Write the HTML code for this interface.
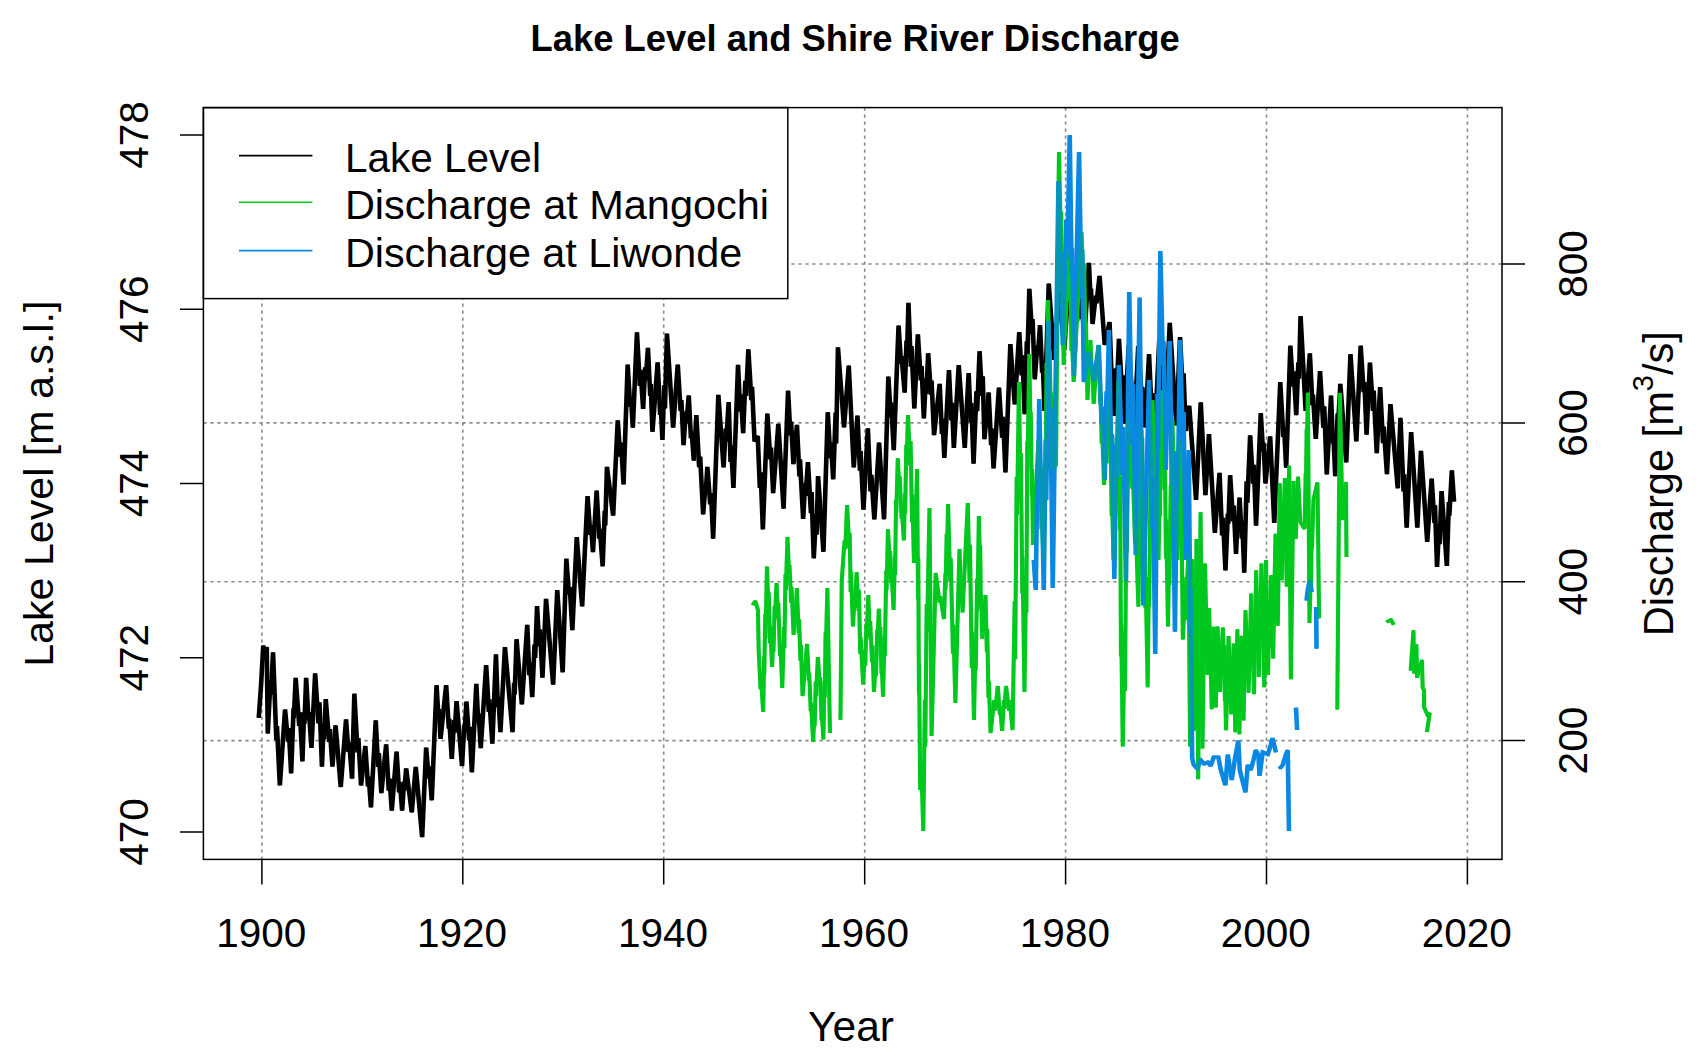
<!DOCTYPE html><html><head><meta charset="utf-8"><title>Lake Level and Shire River Discharge</title>
<style>html,body{margin:0;padding:0;background:#fff;}svg{display:block;} text{font-family:'Liberation Sans',Arial,sans-serif;fill:#000;}</style></head><body>
<svg width="1699" height="1063" viewBox="0 0 1699 1063">
<rect x="0" y="0" width="1699" height="1063" fill="#fff"/>
<path d="M261.9 107.6 V859.4 M462.8 107.6 V859.4 M663.7 107.6 V859.4 M864.7 107.6 V859.4 M1065.6 107.6 V859.4 M1266.5 107.6 V859.4 M1467.4 107.6 V859.4 M203.4 740.6 H1502.0 M203.4 581.7 H1502.0 M203.4 422.9 H1502.0 M203.4 264.0 H1502.0" stroke="#8a8a8a" stroke-width="1.6" stroke-dasharray="3.2 3.8" fill="none"/>
<g fill="none" stroke-linejoin="miter" stroke-miterlimit="2" stroke-linecap="butt">
<path d="M258.0 717.8 L260.3 685.4 L262.5 645.5 L264.5 660.0 L266.0 647.0 L267.0 733.6 L269.7 680.5 L270.2 694.7 L272.3 652.3 L275.6 739.9 L276.2 726.0 L279.1 785.5 L284.3 709.5 L287.3 741.5 L288.0 728.2 L290.4 773.4 L292.8 708.4 L293.1 718.3 L294.9 677.9 L298.5 726.0 L299.1 712.4 L301.7 761.4 L303.3 712.3 L303.7 723.6 L305.4 677.9 L307.7 719.3 L308.2 712.1 L310.7 747.9 L314.4 673.4 L317.7 723.5 L318.7 702.2 L321.2 766.7 L322.9 723.1 L323.4 739.4 L325.0 699.0 L328.4 741.9 L329.1 729.2 L331.7 766.7 L334.8 725.3 L340.0 787.0 L345.3 719.3 L347.7 751.9 L348.5 742.3 L351.3 778.7 L353.6 693.7 L356.8 752.5 L357.6 738.2 L360.3 785.5 L364.6 746.0 L367.2 786.3 L367.9 776.5 L370.2 807.5 L375.0 720.4 L377.3 767.0 L378.1 753.2 L380.6 793.1 L385.4 744.4 L388.0 790.6 L388.8 778.6 L391.0 810.7 L395.8 751.6 L398.4 792.4 L399.1 782.4 L401.4 810.7 L403.3 781.5 L403.6 790.7 L405.4 768.4 L411.0 812.3 L415.0 766.8 L421.4 837.1 L425.4 747.6 L428.0 778.4 L428.5 766.3 L431.0 800.3 L435.8 685.2 L437.7 717.2 L438.1 709.1 L439.8 738.8 L445.4 685.2 L448.1 728.7 L448.5 718.8 L451.0 758.8 L453.3 720.1 L453.9 732.7 L455.8 701.2 L461.3 766.0 L463.5 725.2 L463.9 731.8 L465.7 701.7 L468.4 740.5 L468.9 726.8 L471.1 772.3 L475.6 683.8 L477.5 722.8 L477.9 713.7 L480.0 748.2 L485.4 665.1 L488.1 711.8 L488.6 699.4 L491.6 743.7 L495.2 654.3 L497.1 707.2 L497.6 697.0 L499.7 732.1 L504.2 647.2 L511.8 732.1 L513.4 682.9 L513.9 694.5 L515.8 639.2 L521.1 704.4 L526.5 624.9 L528.6 675.2 L529.3 662.3 L531.5 697.2 L533.8 644.5 L534.4 658.0 L536.3 606.1 L538.5 646.1 L539.3 629.6 L541.7 677.6 L545.3 598.9 L552.4 684.7 L556.5 590.1 L561.9 672.3 L565.6 558.7 L568.2 594.5 L569.0 587.0 L571.6 630.1 L576.0 537.1 L581.4 606.3 L586.8 496.0 L589.6 535.0 L590.3 525.1 L592.2 552.2 L595.9 490.6 L598.5 538.7 L599.1 528.9 L601.9 566.3 L604.0 510.7 L604.5 525.5 L606.2 466.9 L612.4 515.6 L617.0 420.4 L619.5 456.7 L620.3 442.7 L622.8 484.5 L626.9 364.5 L629.4 406.6 L630.2 397.1 L632.1 427.6 L636.2 332.4 L639.1 385.8 L639.7 369.8 L642.4 409.0 L644.4 367.3 L644.9 380.4 L647.2 347.9 L649.5 396.0 L650.0 384.0 L651.7 431.8 L656.9 362.4 L659.4 415.0 L659.8 400.8 L661.7 440.0 L663.5 385.2 L664.2 408.4 L666.2 333.5 L672.4 427.6 L677.0 364.5 L679.9 411.0 L680.6 400.2 L682.8 445.2 L685.1 411.5 L685.7 423.4 L688.0 395.5 L690.2 438.4 L690.9 431.7 L693.1 460.7 L695.6 415.2 L698.4 467.1 L699.4 456.6 L702.4 514.5 L704.6 486.7 L705.0 492.6 L706.6 466.9 L709.5 504.3 L710.3 493.0 L712.4 538.7 L717.6 394.8 L722.8 467.3 L725.0 428.5 L725.5 441.4 L727.9 402.1 L729.8 461.9 L730.3 445.7 L732.7 488.0 L737.3 364.8 L739.4 411.4 L740.1 394.7 L742.4 433.1 L744.6 380.8 L745.4 396.0 L747.6 349.3 L750.6 400.1 L751.3 386.7 L753.8 441.4 L757.0 436.0 L759.1 487.9 L759.9 472.3 L762.1 529.4 L766.6 413.5 L769.6 459.5 L770.2 447.6 L772.4 493.1 L777.6 423.8 L782.8 508.7 L787.3 390.7 L789.7 435.5 L790.3 421.5 L792.7 464.2 L796.2 424.9 L798.7 476.5 L799.2 459.3 L802.4 519.0 L804.4 483.3 L804.8 495.8 L807.2 462.1 L810.2 513.2 L810.8 492.1 L813.0 558.3 L815.3 514.3 L815.8 534.7 L817.3 476.0 L822.7 551.8 L827.0 412.2 L829.6 458.1 L830.1 442.4 L832.5 479.3 L834.9 412.5 L835.4 443.5 L837.2 347.3 L843.3 427.4 L848.0 365.7 L853.0 467.4 L856.7 415.5 L859.2 470.7 L859.8 451.2 L862.7 509.6 L867.1 428.4 L869.8 491.4 L870.6 474.8 L873.6 519.3 L878.3 442.5 L883.3 519.3 L887.6 376.5 L890.0 417.1 L890.4 402.6 L893.0 450.1 L897.8 325.6 L900.3 363.9 L900.8 355.9 L903.9 392.7 L905.8 340.6 L906.2 357.8 L907.7 302.8 L910.1 366.8 L910.7 346.0 L913.6 408.5 L917.1 334.4 L920.1 380.4 L920.8 366.0 L923.1 418.4 L925.1 378.5 L925.7 394.0 L927.4 353.2 L930.3 395.0 L930.8 380.5 L933.3 435.2 L938.9 383.8 L941.2 433.9 L941.7 418.8 L943.6 457.9 L948.2 370.0 L950.6 420.5 L951.2 402.7 L953.1 448.0 L958.0 365.1 L964.0 448.0 L967.9 373.0 L970.0 422.4 L970.6 403.0 L972.8 463.8 L975.7 391.3 L976.4 411.3 L978.8 351.2 L981.2 395.9 L982.0 376.4 L983.7 439.1 L987.9 392.5 L990.4 445.1 L990.9 428.6 L992.8 468.5 L998.2 387.5 L1001.4 437.6 L1002.3 416.7 L1004.7 472.5 L1009.6 344.1 L1014.0 404.3 L1018.5 332.2 L1020.9 375.3 L1021.7 355.3 L1023.9 414.2 L1026.1 341.3 L1026.6 359.4 L1028.6 288.8 L1031.3 334.1 L1031.8 319.1 L1034.0 379.3 L1036.6 345.7 L1037.3 352.8 L1039.3 325.2 L1041.4 372.8 L1042.0 361.0 L1043.8 411.0 L1048.0 283.5 L1053.5 360.0 L1058.5 290.0 L1063.5 350.0 L1068.5 275.0 L1071.3 327.3 L1072.0 314.7 L1074.0 355.0 L1075.9 305.4 L1076.3 321.3 L1078.5 280.0 L1081.1 319.1 L1081.9 311.9 L1083.5 340.0 L1088.2 262.9 L1089.8 299.6 L1090.2 288.6 L1091.8 324.0 L1095.0 295.6 L1095.7 303.3 L1098.8 275.9 L1104.0 345.0 L1108.8 322.0 L1111.0 381.2 L1111.5 368.9 L1113.5 416.0 L1115.5 368.2 L1116.2 385.5 L1118.2 338.9 L1121.2 389.1 L1121.9 375.4 L1123.8 423.6 L1128.0 345.0 L1133.5 428.0 L1137.5 346.0 L1140.9 395.3 L1141.6 387.1 L1144.5 427.3 L1148.3 354.0 L1150.8 410.9 L1151.5 393.1 L1153.9 438.6 L1158.5 340.0 L1164.0 432.0 L1169.0 322.9 L1175.6 425.5 L1179.3 337.0 L1182.0 391.7 L1182.8 373.3 L1185.0 431.0 L1188.5 405.8 L1195.3 500.0 L1200.0 402.3 L1204.7 495.2 L1208.2 434.1 L1214.1 532.9 L1218.8 472.9 L1221.4 535.5 L1222.2 517.8 L1224.7 570.5 L1227.1 513.6 L1227.6 523.8 L1229.4 475.2 L1232.3 521.3 L1232.9 505.6 L1235.3 554.0 L1236.9 515.1 L1237.4 524.2 L1238.8 497.6 L1241.0 538.3 L1241.5 520.8 L1243.5 572.8 L1245.9 481.2 L1246.6 502.6 L1249.4 435.3 L1252.3 483.6 L1253.1 464.9 L1255.3 525.8 L1260.0 413.0 L1262.3 451.5 L1262.8 442.7 L1264.7 483.5 L1269.4 436.4 L1273.5 522.9 L1279.5 382.1 L1282.6 436.9 L1283.4 428.0 L1285.4 467.6 L1289.6 345.7 L1292.2 386.4 L1293.0 371.3 L1295.5 415.1 L1297.6 362.3 L1298.2 378.8 L1299.8 316.1 L1304.9 410.9 L1309.1 353.3 L1311.7 405.1 L1312.2 394.7 L1315.0 438.8 L1319.3 371.1 L1322.6 427.7 L1323.5 406.3 L1326.0 474.4 L1330.3 395.6 L1332.2 443.8 L1332.6 433.5 L1334.5 476.1 L1336.9 413.5 L1337.4 423.3 L1339.6 383.8 L1345.5 462.5 L1349.7 354.2 L1355.6 441.4 L1359.9 345.7 L1362.9 392.2 L1363.7 382.1 L1365.8 434.6 L1369.2 362.6 L1372.3 411.0 L1372.9 390.7 L1376.0 453.2 L1379.4 387.2 L1382.3 443.1 L1383.0 426.7 L1386.2 474.2 L1389.7 404.2 L1397.0 488.3 L1399.7 417.7 L1402.8 491.5 L1403.5 474.2 L1405.9 527.6 L1410.4 432.0 L1416.6 527.6 L1420.2 450.8 L1426.5 541.9 L1430.9 478.5 L1433.7 523.0 L1434.2 505.3 L1436.3 567.0 L1438.3 527.0 L1438.8 544.2 L1440.8 491.0 L1446.1 566.0 L1448.1 502.1 L1448.6 515.6 L1451.1 470.4 L1453.3 501.7" stroke="#000" stroke-width="3.1"/>
<path d="M258.0 717.8 L260.3 685.4 L262.5 645.5 L264.5 660.0 L266.0 647.0 L267.0 733.6 L269.7 680.5 L270.2 694.7 L272.3 652.3 L275.6 739.9 L276.2 726.0 L279.1 785.5 L284.3 709.5 L287.3 741.5 L288.0 728.2 L290.4 773.4 L292.8 708.4 L293.1 718.3 L294.9 677.9 L298.5 726.0 L299.1 712.4 L301.7 761.4 L303.3 712.3 L303.7 723.6 L305.4 677.9 L307.7 719.3 L308.2 712.1 L310.7 747.9 L314.4 673.4 L317.7 723.5 L318.7 702.2 L321.2 766.7 L322.9 723.1 L323.4 739.4 L325.0 699.0 L328.4 741.9 L329.1 729.2 L331.7 766.7 L334.8 725.3 L340.0 787.0 L345.3 719.3 L347.7 751.9 L348.5 742.3 L351.3 778.7 L353.6 693.7 L356.8 752.5 L357.6 738.2 L360.3 785.5 L364.6 746.0 L367.2 786.3 L367.9 776.5 L370.2 807.5 L375.0 720.4 L377.3 767.0 L378.1 753.2 L380.6 793.1 L385.4 744.4 L388.0 790.6 L388.8 778.6 L391.0 810.7 L395.8 751.6 L398.4 792.4 L399.1 782.4 L401.4 810.7 L403.3 781.5 L403.6 790.7 L405.4 768.4 L411.0 812.3 L415.0 766.8 L421.4 837.1 L425.4 747.6 L428.0 778.4 L428.5 766.3 L431.0 800.3 L435.8 685.2 L437.7 717.2 L438.1 709.1 L439.8 738.8 L445.4 685.2 L448.1 728.7 L448.5 718.8 L451.0 758.8 L453.3 720.1 L453.9 732.7 L455.8 701.2 L461.3 766.0 L463.5 725.2 L463.9 731.8 L465.7 701.7 L468.4 740.5 L468.9 726.8 L471.1 772.3 L475.6 683.8 L477.5 722.8 L477.9 713.7 L480.0 748.2 L485.4 665.1 L488.1 711.8 L488.6 699.4 L491.6 743.7 L495.2 654.3 L497.1 707.2 L497.6 697.0 L499.7 732.1 L504.2 647.2 L511.8 732.1 L513.4 682.9 L513.9 694.5 L515.8 639.2 L521.1 704.4 L526.5 624.9 L528.6 675.2 L529.3 662.3 L531.5 697.2 L533.8 644.5 L534.4 658.0 L536.3 606.1 L538.5 646.1 L539.3 629.6 L541.7 677.6 L545.3 598.9 L552.4 684.7 L556.5 590.1 L561.9 672.3 L565.6 558.7 L568.2 594.5 L569.0 587.0 L571.6 630.1 L576.0 537.1 L581.4 606.3 L586.8 496.0 L589.6 535.0 L590.3 525.1 L592.2 552.2 L595.9 490.6 L598.5 538.7 L599.1 528.9 L601.9 566.3 L604.0 510.7 L604.5 525.5 L606.2 466.9 L612.4 515.6 L617.0 420.4 L619.5 456.7 L620.3 442.7 L622.8 484.5 L626.9 364.5 L629.4 406.6 L630.2 397.1 L632.1 427.6 L636.2 332.4 L639.1 385.8 L639.7 369.8 L642.4 409.0 L644.4 367.3 L644.9 380.4 L647.2 347.9 L649.5 396.0 L650.0 384.0 L651.7 431.8 L656.9 362.4 L659.4 415.0 L659.8 400.8 L661.7 440.0 L663.5 385.2 L664.2 408.4 L666.2 333.5 L672.4 427.6 L677.0 364.5 L679.9 411.0 L680.6 400.2 L682.8 445.2 L685.1 411.5 L685.7 423.4 L688.0 395.5 L690.2 438.4 L690.9 431.7 L693.1 460.7 L695.6 415.2 L698.4 467.1 L699.4 456.6 L702.4 514.5 L704.6 486.7 L705.0 492.6 L706.6 466.9 L709.5 504.3 L710.3 493.0 L712.4 538.7 L717.6 394.8 L722.8 467.3 L725.0 428.5 L725.5 441.4 L727.9 402.1 L729.8 461.9 L730.3 445.7 L732.7 488.0 L737.3 364.8 L739.4 411.4 L740.1 394.7 L742.4 433.1 L744.6 380.8 L745.4 396.0 L747.6 349.3 L750.6 400.1 L751.3 386.7 L753.8 441.4 L757.0 436.0 L759.1 487.9 L759.9 472.3 L762.1 529.4 L766.6 413.5 L769.6 459.5 L770.2 447.6 L772.4 493.1 L777.6 423.8 L782.8 508.7 L787.3 390.7 L789.7 435.5 L790.3 421.5 L792.7 464.2 L796.2 424.9 L798.7 476.5 L799.2 459.3 L802.4 519.0 L804.4 483.3 L804.8 495.8 L807.2 462.1 L810.2 513.2 L810.8 492.1 L813.0 558.3 L815.3 514.3 L815.8 534.7 L817.3 476.0 L822.7 551.8 L827.0 412.2 L829.6 458.1 L830.1 442.4 L832.5 479.3 L834.9 412.5 L835.4 443.5 L837.2 347.3 L843.3 427.4 L848.0 365.7 L853.0 467.4 L856.7 415.5 L859.2 470.7 L859.8 451.2 L862.7 509.6 L867.1 428.4 L869.8 491.4 L870.6 474.8 L873.6 519.3 L878.3 442.5 L883.3 519.3 L887.6 376.5 L890.0 417.1 L890.4 402.6 L893.0 450.1 L897.8 325.6 L900.3 363.9 L900.8 355.9 L903.9 392.7 L905.8 340.6 L906.2 357.8 L907.7 302.8 L910.1 366.8 L910.7 346.0 L913.6 408.5 L917.1 334.4 L920.1 380.4 L920.8 366.0 L923.1 418.4 L925.1 378.5 L925.7 394.0 L927.4 353.2 L930.3 395.0 L930.8 380.5 L933.3 435.2 L938.9 383.8 L941.2 433.9 L941.7 418.8 L943.6 457.9 L948.2 370.0 L950.6 420.5 L951.2 402.7 L953.1 448.0 L958.0 365.1 L964.0 448.0 L967.9 373.0 L970.0 422.4 L970.6 403.0 L972.8 463.8 L975.7 391.3 L976.4 411.3 L978.8 351.2 L981.2 395.9 L982.0 376.4 L983.7 439.1 L987.9 392.5 L990.4 445.1 L990.9 428.6 L992.8 468.5 L998.2 387.5 L1001.4 437.6 L1002.3 416.7 L1004.7 472.5 L1009.6 344.1 L1014.0 404.3 L1018.5 332.2 L1020.9 375.3 L1021.7 355.3 L1023.9 414.2 L1026.1 341.3 L1026.6 359.4 L1028.6 288.8 L1031.3 334.1 L1031.8 319.1 L1034.0 379.3 L1036.6 345.7 L1037.3 352.8 L1039.3 325.2 L1041.4 372.8 L1042.0 361.0 L1043.8 411.0 L1048.0 283.5 L1053.5 360.0 L1058.5 290.0 L1063.5 350.0 L1068.5 275.0 L1071.3 327.3 L1072.0 314.7 L1074.0 355.0 L1075.9 305.4 L1076.3 321.3 L1078.5 280.0 L1081.1 319.1 L1081.9 311.9 L1083.5 340.0 L1088.2 262.9 L1089.8 299.6 L1090.2 288.6 L1091.8 324.0 L1095.0 295.6 L1095.7 303.3 L1098.8 275.9 L1104.0 345.0 L1108.8 322.0 L1111.0 381.2 L1111.5 368.9 L1113.5 416.0 L1115.5 368.2 L1116.2 385.5 L1118.2 338.9 L1121.2 389.1 L1121.9 375.4 L1123.8 423.6 L1128.0 345.0 L1133.5 428.0 L1137.5 346.0 L1140.9 395.3 L1141.6 387.1 L1144.5 427.3 L1148.3 354.0 L1150.8 410.9 L1151.5 393.1 L1153.9 438.6 L1158.5 340.0 L1164.0 432.0 L1169.0 322.9 L1175.6 425.5 L1179.3 337.0 L1182.0 391.7 L1182.8 373.3 L1185.0 431.0 L1188.5 405.8 L1195.3 500.0 L1200.0 402.3 L1204.7 495.2 L1208.2 434.1 L1214.1 532.9 L1218.8 472.9 L1221.4 535.5 L1222.2 517.8 L1224.7 570.5 L1227.1 513.6 L1227.6 523.8 L1229.4 475.2 L1232.3 521.3 L1232.9 505.6 L1235.3 554.0 L1236.9 515.1 L1237.4 524.2 L1238.8 497.6 L1241.0 538.3 L1241.5 520.8 L1243.5 572.8 L1245.9 481.2 L1246.6 502.6 L1249.4 435.3 L1252.3 483.6 L1253.1 464.9 L1255.3 525.8 L1260.0 413.0 L1262.3 451.5 L1262.8 442.7 L1264.7 483.5 L1269.4 436.4 L1273.5 522.9 L1279.5 382.1 L1282.6 436.9 L1283.4 428.0 L1285.4 467.6 L1289.6 345.7 L1292.2 386.4 L1293.0 371.3 L1295.5 415.1 L1297.6 362.3 L1298.2 378.8 L1299.8 316.1 L1304.9 410.9 L1309.1 353.3 L1311.7 405.1 L1312.2 394.7 L1315.0 438.8 L1319.3 371.1 L1322.6 427.7 L1323.5 406.3 L1326.0 474.4 L1330.3 395.6 L1332.2 443.8 L1332.6 433.5 L1334.5 476.1 L1336.9 413.5 L1337.4 423.3 L1339.6 383.8 L1345.5 462.5 L1349.7 354.2 L1355.6 441.4 L1359.9 345.7 L1362.9 392.2 L1363.7 382.1 L1365.8 434.6 L1369.2 362.6 L1372.3 411.0 L1372.9 390.7 L1376.0 453.2 L1379.4 387.2 L1382.3 443.1 L1383.0 426.7 L1386.2 474.2 L1389.7 404.2 L1397.0 488.3 L1399.7 417.7 L1402.8 491.5 L1403.5 474.2 L1405.9 527.6 L1410.4 432.0 L1416.6 527.6 L1420.2 450.8 L1426.5 541.9 L1430.9 478.5 L1433.7 523.0 L1434.2 505.3 L1436.3 567.0 L1438.3 527.0 L1438.8 544.2 L1440.8 491.0 L1446.1 566.0 L1448.1 502.1 L1448.6 515.6 L1451.1 470.4 L1453.3 501.7" stroke="#000" stroke-width="3.1" transform="translate(1.5 0)"/>
<path d="M752.1 605.0 L754.8 601.0 L757.5 610.0 L758.2 650.0 L760.1 689.1 L760.5 677.9 L762.7 712.0 L763.7 656.1 L763.8 674.1 L764.8 613.7 L765.0 638.1 L766.5 566.5 L767.9 606.3 L768.3 592.2 L769.6 643.3 L769.8 626.1 L771.6 667.0 L772.8 638.0 L773.0 652.0 L774.2 606.1 L774.5 615.9 L776.1 583.0 L777.6 618.6 L777.8 602.7 L779.6 656.3 L779.9 643.1 L781.8 688.0 L783.6 627.1 L783.9 648.2 L785.0 574.1 L785.4 590.3 L787.0 537.0 L788.6 573.8 L789.0 564.7 L790.7 602.7 L791.1 586.9 L793.1 635.0 L794.8 608.6 L795.2 617.4 L796.4 588.0 L798.2 633.1 L798.6 619.2 L800.0 660.7 L800.4 644.7 L802.1 696.0 L806.6 644.0 L808.4 680.4 L808.7 672.8 L810.3 711.0 L810.6 703.0 L812.7 742.0 L814.0 711.6 L814.2 726.3 L815.3 681.5 L815.6 696.3 L817.4 657.0 L819.4 686.8 L819.7 677.3 L821.1 719.9 L821.3 712.1 L822.9 739.5 L824.0 681.7 L824.3 697.5 L825.1 632.2 L825.3 653.2 L826.9 588.0 L829.5 733.0 M840.0 719.7 L841.3 580.0 L844.1 540.6 L844.8 549.1 L846.6 505.0 L848.8 548.0 L849.2 532.7 L850.2 592.0 L850.5 571.5 L852.5 626.5 L854.0 599.1 L854.4 607.9 L856.1 572.2 L858.1 610.9 L858.4 589.9 L859.8 654.0 L860.1 637.2 L862.7 684.4 L864.4 650.2 L864.8 665.9 L865.9 623.5 L866.1 639.7 L867.8 595.0 L869.4 636.5 L869.7 621.3 L871.6 662.4 L871.9 645.6 L873.5 692.0 L875.2 663.5 L875.5 676.3 L876.8 629.5 L877.1 637.6 L878.4 608.8 L879.7 642.6 L879.9 627.1 L881.0 673.6 L881.2 664.6 L882.6 696.8 L884.0 636.5 L884.3 656.2 L885.8 570.2 L886.1 590.2 L887.5 529.3 L889.4 564.1 L889.6 551.1 L890.8 583.2 L891.2 574.1 L893.1 610.0 L894.4 555.9 L894.6 574.9 L895.6 499.9 L895.8 512.9 L897.3 458.3 L898.9 489.9 L899.2 476.3 L901.1 518.8 L901.5 512.0 L903.4 540.3 L904.5 493.7 L904.7 513.6 L905.8 444.7 L906.0 465.9 L907.5 415.0 L909.7 464.8 L910.1 441.1 L911.6 522.3 L911.8 495.0 L913.5 563.0 L914.3 526.0 L914.5 538.0 L915.3 499.2 L915.5 511.0 L916.6 469.0 L917.6 599.3 L917.8 558.2 L918.5 694.6 L918.6 663.4 L919.7 790.0 L921.0 770.0 L922.8 831.0 L924.4 699.9 L924.8 746.4 L926.2 603.9 L926.6 631.5 L929.0 508.0 L931.1 736.0 L935.2 573.0 L939.1 602.5 L939.8 596.3 L943.5 619.0 L944.9 573.2 L945.1 589.8 L946.2 533.8 L946.5 555.1 L947.6 504.0 L949.7 581.2 L950.2 558.0 L952.5 653.6 L952.9 624.7 L954.9 703.0 L959.0 549.0 L960.4 591.5 L960.6 581.6 L962.1 612.5 L967.3 503.0 L969.1 581.6 L969.5 544.8 L971.3 668.0 L971.7 631.7 L973.5 720.0 L975.0 643.3 L975.2 670.7 L976.7 578.5 L976.9 610.6 L978.4 516.0 L979.4 558.3 L979.7 545.3 L980.4 607.6 L980.6 594.6 L981.8 638.6 L983.3 613.6 L983.7 623.2 L985.0 595.0 L986.4 652.2 L986.8 629.0 L988.0 697.8 L988.4 681.4 L990.1 733.0 L993.7 700.2 L994.8 710.4 L997.3 686.0 L999.4 714.7 L999.7 707.0 L1001.6 731.0 L1003.6 700.2 L1004.0 708.8 L1005.5 686.0 L1008.7 710.8 L1009.2 700.3 L1012.1 730.0 L1014.2 601.3 L1014.7 659.3 L1016.2 477.1 L1016.6 514.8 L1018.5 382.0 L1020.1 501.5 L1020.4 453.0 L1021.8 593.6 L1022.0 556.8 L1024.0 692.0 L1025.7 576.0 L1025.9 612.5 L1026.8 441.3 L1027.0 468.6 L1028.8 354.0 L1030.1 433.4 L1030.3 412.1 L1031.3 495.4 L1031.5 469.0 L1032.5 545.0 L1038.0 440.0 L1039.9 481.6 L1040.1 467.1 L1040.9 529.1 L1041.1 508.2 L1043.0 560.0 L1044.5 462.5 L1044.9 499.0 L1046.1 362.7 L1046.4 410.9 L1047.6 300.0 L1048.9 371.0 L1049.2 352.4 L1050.4 421.4 L1050.6 392.6 L1052.0 470.0 L1055.5 465.0 L1058.5 152.0 L1060.3 234.4 L1060.7 211.5 L1061.3 305.2 L1061.6 269.5 L1063.3 365.0 L1064.6 322.1 L1064.7 335.6 L1066.5 284.3 L1066.8 301.0 L1068.0 250.0 L1069.8 295.1 L1070.0 276.5 L1070.9 350.7 L1071.2 331.5 L1073.2 382.0 L1081.0 232.0 L1083.3 288.7 L1083.6 263.7 L1085.1 350.0 L1085.5 325.1 L1087.0 400.0 L1090.0 340.0 L1091.4 375.0 L1091.7 365.3 L1093.2 404.0 L1095.6 370.1 L1096.2 376.3 L1098.0 345.0 L1099.9 404.1 L1100.2 393.1 L1101.2 443.4 L1101.5 424.0 L1103.6 485.0 L1105.2 450.0 L1105.6 463.5 L1106.7 426.1 L1107.0 435.3 L1108.5 400.0 L1109.9 463.4 L1110.1 439.6 L1111.2 515.9 L1111.5 497.4 L1113.0 560.0 L1114.5 491.5 L1114.8 516.1 L1116.2 436.9 L1116.4 467.0 L1118.0 380.0 L1119.5 530.0 L1119.7 476.3 L1120.5 656.6 L1120.7 624.4 L1122.3 746.5 L1124.3 630.8 L1124.5 691.1 L1126.0 504.8 L1126.3 552.8 L1128.0 420.0 L1131.5 488.4 L1132.2 465.7 L1134.6 544.5 L1135.4 528.5 L1137.9 606.8 L1138.9 530.4 L1139.1 563.2 L1140.0 481.4 L1140.1 497.6 L1141.0 430.0 L1143.3 532.8 L1143.6 496.3 L1144.9 608.0 L1145.3 582.9 L1147.2 687.2 L1148.4 577.4 L1148.7 606.3 L1150.1 475.8 L1150.3 514.2 L1152.0 400.0 L1153.8 456.7 L1154.2 432.0 L1155.4 519.6 L1155.8 492.0 L1158.0 560.0 L1159.3 491.2 L1159.5 516.4 L1160.2 440.8 L1160.5 470.5 L1162.0 390.0 L1164.0 489.4 L1164.4 455.2 L1165.5 558.8 L1165.7 519.8 L1167.5 626.5 L1168.7 552.7 L1168.9 585.0 L1170.3 484.7 L1170.6 513.3 L1172.0 420.0 L1173.5 480.6 L1173.8 466.3 L1175.1 525.1 L1175.5 508.3 L1177.0 560.0 L1180.0 440.0 L1182.4 639.4 L1183.9 607.6 L1184.3 620.4 L1185.8 577.2 L1186.1 588.9 L1188.0 553.8 L1189.6 746.6 L1191.6 559.3 L1194.3 730.4 L1196.0 539.1 L1197.7 779.3 L1200.1 512.2 L1202.0 748.6 L1204.5 563.6 L1207.0 674.9 L1208.6 608.0 L1211.3 709.1 L1213.2 626.8 L1215.3 707.5 L1217.1 626.6 L1219.6 691.9 L1222.4 627.5 L1223.6 663.8 L1223.8 645.2 L1224.4 701.1 L1224.6 687.8 L1225.6 730.2 L1228.1 636.0 L1230.6 714.3 L1233.2 643.6 L1234.8 732.2 L1236.9 629.3 L1238.9 734.2 L1240.9 635.8 L1243.1 720.5 L1245.0 610.4 L1246.0 638.8 L1246.3 630.1 L1246.9 667.0 L1247.1 660.1 L1248.1 692.8 L1250.7 593.6 L1253.5 694.3 L1255.7 570.4 L1258.3 676.9 L1261.0 563.6 L1263.8 687.3 L1265.5 560.0 L1267.5 675.0 L1268.4 638.7 L1268.6 647.9 L1269.4 600.7 L1269.6 619.0 L1270.6 575.4 L1272.7 658.5 L1275.0 533.9 L1277.3 625.8 L1279.3 483.2 L1281.3 580.2 L1284.4 478.1 L1286.3 586.6 L1288.7 465.7 L1290.4 679.2 L1293.0 481.0 L1295.3 538.7 L1297.5 476.7 L1299.9 522.0 L1304.2 528.8 L1305.2 473.1 L1305.4 491.6 L1306.2 428.7 L1306.4 446.7 L1307.4 392.8 L1309.0 623.0 L1310.2 576.2 L1310.5 587.6 L1311.3 529.6 L1311.5 548.5 L1313.0 500.0 L1317.0 482.4 L1318.6 618.3 M1336.8 709.5 L1339.4 393.0 L1342.0 520.0 L1344.0 500.0 L1345.5 482.0 L1346.0 557.0 M1386.2 621.9 L1390.5 619.8 L1393.3 624.7 M1410.2 670.6 L1413.0 630.3 L1413.7 673.4 L1415.9 644.4 L1416.6 677.6 L1421.5 660.0 L1422.2 687.5 L1423.6 690.3 L1423.6 707.2 L1427.0 715.0 L1429.3 712.9 L1427.5 725.0 L1426.4 732.0" stroke="#00c81e" stroke-width="3.1"/>
<path d="M752.1 605.0 L754.8 601.0 L757.5 610.0 L758.2 650.0 L760.1 689.1 L760.5 677.9 L762.7 712.0 L763.7 656.1 L763.8 674.1 L764.8 613.7 L765.0 638.1 L766.5 566.5 L767.9 606.3 L768.3 592.2 L769.6 643.3 L769.8 626.1 L771.6 667.0 L772.8 638.0 L773.0 652.0 L774.2 606.1 L774.5 615.9 L776.1 583.0 L777.6 618.6 L777.8 602.7 L779.6 656.3 L779.9 643.1 L781.8 688.0 L783.6 627.1 L783.9 648.2 L785.0 574.1 L785.4 590.3 L787.0 537.0 L788.6 573.8 L789.0 564.7 L790.7 602.7 L791.1 586.9 L793.1 635.0 L794.8 608.6 L795.2 617.4 L796.4 588.0 L798.2 633.1 L798.6 619.2 L800.0 660.7 L800.4 644.7 L802.1 696.0 L806.6 644.0 L808.4 680.4 L808.7 672.8 L810.3 711.0 L810.6 703.0 L812.7 742.0 L814.0 711.6 L814.2 726.3 L815.3 681.5 L815.6 696.3 L817.4 657.0 L819.4 686.8 L819.7 677.3 L821.1 719.9 L821.3 712.1 L822.9 739.5 L824.0 681.7 L824.3 697.5 L825.1 632.2 L825.3 653.2 L826.9 588.0 L829.5 733.0 M840.0 719.7 L841.3 580.0 L844.1 540.6 L844.8 549.1 L846.6 505.0 L848.8 548.0 L849.2 532.7 L850.2 592.0 L850.5 571.5 L852.5 626.5 L854.0 599.1 L854.4 607.9 L856.1 572.2 L858.1 610.9 L858.4 589.9 L859.8 654.0 L860.1 637.2 L862.7 684.4 L864.4 650.2 L864.8 665.9 L865.9 623.5 L866.1 639.7 L867.8 595.0 L869.4 636.5 L869.7 621.3 L871.6 662.4 L871.9 645.6 L873.5 692.0 L875.2 663.5 L875.5 676.3 L876.8 629.5 L877.1 637.6 L878.4 608.8 L879.7 642.6 L879.9 627.1 L881.0 673.6 L881.2 664.6 L882.6 696.8 L884.0 636.5 L884.3 656.2 L885.8 570.2 L886.1 590.2 L887.5 529.3 L889.4 564.1 L889.6 551.1 L890.8 583.2 L891.2 574.1 L893.1 610.0 L894.4 555.9 L894.6 574.9 L895.6 499.9 L895.8 512.9 L897.3 458.3 L898.9 489.9 L899.2 476.3 L901.1 518.8 L901.5 512.0 L903.4 540.3 L904.5 493.7 L904.7 513.6 L905.8 444.7 L906.0 465.9 L907.5 415.0 L909.7 464.8 L910.1 441.1 L911.6 522.3 L911.8 495.0 L913.5 563.0 L914.3 526.0 L914.5 538.0 L915.3 499.2 L915.5 511.0 L916.6 469.0 L917.6 599.3 L917.8 558.2 L918.5 694.6 L918.6 663.4 L919.7 790.0 L921.0 770.0 L922.8 831.0 L924.4 699.9 L924.8 746.4 L926.2 603.9 L926.6 631.5 L929.0 508.0 L931.1 736.0 L935.2 573.0 L939.1 602.5 L939.8 596.3 L943.5 619.0 L944.9 573.2 L945.1 589.8 L946.2 533.8 L946.5 555.1 L947.6 504.0 L949.7 581.2 L950.2 558.0 L952.5 653.6 L952.9 624.7 L954.9 703.0 L959.0 549.0 L960.4 591.5 L960.6 581.6 L962.1 612.5 L967.3 503.0 L969.1 581.6 L969.5 544.8 L971.3 668.0 L971.7 631.7 L973.5 720.0 L975.0 643.3 L975.2 670.7 L976.7 578.5 L976.9 610.6 L978.4 516.0 L979.4 558.3 L979.7 545.3 L980.4 607.6 L980.6 594.6 L981.8 638.6 L983.3 613.6 L983.7 623.2 L985.0 595.0 L986.4 652.2 L986.8 629.0 L988.0 697.8 L988.4 681.4 L990.1 733.0 L993.7 700.2 L994.8 710.4 L997.3 686.0 L999.4 714.7 L999.7 707.0 L1001.6 731.0 L1003.6 700.2 L1004.0 708.8 L1005.5 686.0 L1008.7 710.8 L1009.2 700.3 L1012.1 730.0 L1014.2 601.3 L1014.7 659.3 L1016.2 477.1 L1016.6 514.8 L1018.5 382.0 L1020.1 501.5 L1020.4 453.0 L1021.8 593.6 L1022.0 556.8 L1024.0 692.0 L1025.7 576.0 L1025.9 612.5 L1026.8 441.3 L1027.0 468.6 L1028.8 354.0 L1030.1 433.4 L1030.3 412.1 L1031.3 495.4 L1031.5 469.0 L1032.5 545.0 L1038.0 440.0 L1039.9 481.6 L1040.1 467.1 L1040.9 529.1 L1041.1 508.2 L1043.0 560.0 L1044.5 462.5 L1044.9 499.0 L1046.1 362.7 L1046.4 410.9 L1047.6 300.0 L1048.9 371.0 L1049.2 352.4 L1050.4 421.4 L1050.6 392.6 L1052.0 470.0 L1055.5 465.0 L1058.5 152.0 L1060.3 234.4 L1060.7 211.5 L1061.3 305.2 L1061.6 269.5 L1063.3 365.0 L1064.6 322.1 L1064.7 335.6 L1066.5 284.3 L1066.8 301.0 L1068.0 250.0 L1069.8 295.1 L1070.0 276.5 L1070.9 350.7 L1071.2 331.5 L1073.2 382.0 L1081.0 232.0 L1083.3 288.7 L1083.6 263.7 L1085.1 350.0 L1085.5 325.1 L1087.0 400.0 L1090.0 340.0 L1091.4 375.0 L1091.7 365.3 L1093.2 404.0 L1095.6 370.1 L1096.2 376.3 L1098.0 345.0 L1099.9 404.1 L1100.2 393.1 L1101.2 443.4 L1101.5 424.0 L1103.6 485.0 L1105.2 450.0 L1105.6 463.5 L1106.7 426.1 L1107.0 435.3 L1108.5 400.0 L1109.9 463.4 L1110.1 439.6 L1111.2 515.9 L1111.5 497.4 L1113.0 560.0 L1114.5 491.5 L1114.8 516.1 L1116.2 436.9 L1116.4 467.0 L1118.0 380.0 L1119.5 530.0 L1119.7 476.3 L1120.5 656.6 L1120.7 624.4 L1122.3 746.5 L1124.3 630.8 L1124.5 691.1 L1126.0 504.8 L1126.3 552.8 L1128.0 420.0 L1131.5 488.4 L1132.2 465.7 L1134.6 544.5 L1135.4 528.5 L1137.9 606.8 L1138.9 530.4 L1139.1 563.2 L1140.0 481.4 L1140.1 497.6 L1141.0 430.0 L1143.3 532.8 L1143.6 496.3 L1144.9 608.0 L1145.3 582.9 L1147.2 687.2 L1148.4 577.4 L1148.7 606.3 L1150.1 475.8 L1150.3 514.2 L1152.0 400.0 L1153.8 456.7 L1154.2 432.0 L1155.4 519.6 L1155.8 492.0 L1158.0 560.0 L1159.3 491.2 L1159.5 516.4 L1160.2 440.8 L1160.5 470.5 L1162.0 390.0 L1164.0 489.4 L1164.4 455.2 L1165.5 558.8 L1165.7 519.8 L1167.5 626.5 L1168.7 552.7 L1168.9 585.0 L1170.3 484.7 L1170.6 513.3 L1172.0 420.0 L1173.5 480.6 L1173.8 466.3 L1175.1 525.1 L1175.5 508.3 L1177.0 560.0 L1180.0 440.0 L1182.4 639.4 L1183.9 607.6 L1184.3 620.4 L1185.8 577.2 L1186.1 588.9 L1188.0 553.8 L1189.6 746.6 L1191.6 559.3 L1194.3 730.4 L1196.0 539.1 L1197.7 779.3 L1200.1 512.2 L1202.0 748.6 L1204.5 563.6 L1207.0 674.9 L1208.6 608.0 L1211.3 709.1 L1213.2 626.8 L1215.3 707.5 L1217.1 626.6 L1219.6 691.9 L1222.4 627.5 L1223.6 663.8 L1223.8 645.2 L1224.4 701.1 L1224.6 687.8 L1225.6 730.2 L1228.1 636.0 L1230.6 714.3 L1233.2 643.6 L1234.8 732.2 L1236.9 629.3 L1238.9 734.2 L1240.9 635.8 L1243.1 720.5 L1245.0 610.4 L1246.0 638.8 L1246.3 630.1 L1246.9 667.0 L1247.1 660.1 L1248.1 692.8 L1250.7 593.6 L1253.5 694.3 L1255.7 570.4 L1258.3 676.9 L1261.0 563.6 L1263.8 687.3 L1265.5 560.0 L1267.5 675.0 L1268.4 638.7 L1268.6 647.9 L1269.4 600.7 L1269.6 619.0 L1270.6 575.4 L1272.7 658.5 L1275.0 533.9 L1277.3 625.8 L1279.3 483.2 L1281.3 580.2 L1284.4 478.1 L1286.3 586.6 L1288.7 465.7 L1290.4 679.2 L1293.0 481.0 L1295.3 538.7 L1297.5 476.7 L1299.9 522.0 L1304.2 528.8 L1305.2 473.1 L1305.4 491.6 L1306.2 428.7 L1306.4 446.7 L1307.4 392.8 L1309.0 623.0 L1310.2 576.2 L1310.5 587.6 L1311.3 529.6 L1311.5 548.5 L1313.0 500.0 L1317.0 482.4 L1318.6 618.3 M1336.8 709.5 L1339.4 393.0 L1342.0 520.0 L1344.0 500.0 L1345.5 482.0 L1346.0 557.0 M1386.2 621.9 L1390.5 619.8 L1393.3 624.7 M1410.2 670.6 L1413.0 630.3 L1413.7 673.4 L1415.9 644.4 L1416.6 677.6 L1421.5 660.0 L1422.2 687.5 L1423.6 690.3 L1423.6 707.2 L1427.0 715.0 L1429.3 712.9 L1427.5 725.0 L1426.4 732.0" stroke="#00c81e" stroke-width="3.1" transform="translate(1.0 0)"/>
<path d="M1033.0 560.0 L1035.0 590.0 L1036.7 468.4 L1037.2 492.8 L1038.5 399.0 L1040.4 503.1 L1041.0 480.3 L1043.0 590.0 L1045.0 439.6 L1045.5 500.3 L1047.6 321.0 L1049.4 469.2 L1049.8 407.6 L1052.0 588.0 L1057.7 181.0 L1059.9 287.4 L1060.5 251.5 L1062.0 345.0 L1065.6 219.6 L1066.5 258.3 L1069.0 135.0 L1070.9 276.2 L1071.3 247.9 L1073.2 376.0 L1078.3 152.0 L1080.8 298.8 L1081.4 250.0 L1083.1 382.0 L1088.0 352.0 L1093.2 381.0 L1098.0 345.0 L1100.9 424.5 L1101.5 406.9 L1104.0 480.0 L1105.8 391.2 L1106.3 415.1 L1108.2 330.0 L1110.7 466.2 L1111.2 434.1 L1113.6 579.0 L1115.5 444.1 L1116.2 478.0 L1118.2 365.0 L1121.8 474.9 L1122.5 427.1 L1125.2 581.0 L1128.5 292.0 L1131.2 445.2 L1132.2 384.0 L1135.0 555.0 L1138.9 297.5 L1140.8 474.5 L1141.3 437.4 L1142.6 605.4 L1148.3 380.0 L1151.4 528.6 L1152.1 477.3 L1154.5 654.0 L1156.8 393.8 L1157.3 452.0 L1159.6 251.0 L1162.2 365.4 L1162.8 341.2 L1165.0 470.0 L1166.9 391.5 L1167.2 412.9 L1169.0 341.0 L1171.1 486.5 L1171.9 452.2 L1174.2 631.7 L1176.4 451.0 L1176.9 500.7 L1179.3 340.0 L1182.2 450.3 L1182.8 411.9 L1185.0 560.0 L1188.0 450.0 L1189.6 633.2 L1190.0 588.7 L1191.4 758.0 L1193.0 765.0 L1196.5 768.7 L1200.0 760.0 L1203.5 764.0 L1207.0 762.0 L1210.0 766.0 L1213.0 757.0 L1217.6 757.0 L1220.0 770.0 L1224.7 785.2 L1227.0 754.6 L1231.0 780.0 L1234.0 760.0 L1237.6 740.5 L1239.0 770.0 L1241.1 778.2 L1244.7 792.3 L1247.0 765.0 L1250.0 770.0 L1252.9 759.3 L1255.0 750.0 L1257.6 754.6 L1258.8 775.8 L1262.0 752.0 L1267.0 754.6 L1270.0 745.0 L1271.7 738.2 L1275.2 752.3 M1278.8 768.7 L1282.0 765.0 L1285.0 755.0 L1287.0 750.0 L1288.2 831.0 M1295.2 707.6 L1296.4 730.0 M1305.8 600.7 L1307.0 590.0 L1309.0 580.0 L1311.0 592.0 M1315.4 607.0 L1315.8 648.7" stroke="#0a88e2" stroke-width="3.1"/>
<path d="M1033.0 560.0 L1035.0 590.0 L1036.7 468.4 L1037.2 492.8 L1038.5 399.0 L1040.4 503.1 L1041.0 480.3 L1043.0 590.0 L1045.0 439.6 L1045.5 500.3 L1047.6 321.0 L1049.4 469.2 L1049.8 407.6 L1052.0 588.0 L1057.7 181.0 L1059.9 287.4 L1060.5 251.5 L1062.0 345.0 L1065.6 219.6 L1066.5 258.3 L1069.0 135.0 L1070.9 276.2 L1071.3 247.9 L1073.2 376.0 L1078.3 152.0 L1080.8 298.8 L1081.4 250.0 L1083.1 382.0 L1088.0 352.0 L1093.2 381.0 L1098.0 345.0 L1100.9 424.5 L1101.5 406.9 L1104.0 480.0 L1105.8 391.2 L1106.3 415.1 L1108.2 330.0 L1110.7 466.2 L1111.2 434.1 L1113.6 579.0 L1115.5 444.1 L1116.2 478.0 L1118.2 365.0 L1121.8 474.9 L1122.5 427.1 L1125.2 581.0 L1128.5 292.0 L1131.2 445.2 L1132.2 384.0 L1135.0 555.0 L1138.9 297.5 L1140.8 474.5 L1141.3 437.4 L1142.6 605.4 L1148.3 380.0 L1151.4 528.6 L1152.1 477.3 L1154.5 654.0 L1156.8 393.8 L1157.3 452.0 L1159.6 251.0 L1162.2 365.4 L1162.8 341.2 L1165.0 470.0 L1166.9 391.5 L1167.2 412.9 L1169.0 341.0 L1171.1 486.5 L1171.9 452.2 L1174.2 631.7 L1176.4 451.0 L1176.9 500.7 L1179.3 340.0 L1182.2 450.3 L1182.8 411.9 L1185.0 560.0 L1188.0 450.0 L1189.6 633.2 L1190.0 588.7 L1191.4 758.0 L1193.0 765.0 L1196.5 768.7 L1200.0 760.0 L1203.5 764.0 L1207.0 762.0 L1210.0 766.0 L1213.0 757.0 L1217.6 757.0 L1220.0 770.0 L1224.7 785.2 L1227.0 754.6 L1231.0 780.0 L1234.0 760.0 L1237.6 740.5 L1239.0 770.0 L1241.1 778.2 L1244.7 792.3 L1247.0 765.0 L1250.0 770.0 L1252.9 759.3 L1255.0 750.0 L1257.6 754.6 L1258.8 775.8 L1262.0 752.0 L1267.0 754.6 L1270.0 745.0 L1271.7 738.2 L1275.2 752.3 M1278.8 768.7 L1282.0 765.0 L1285.0 755.0 L1287.0 750.0 L1288.2 831.0 M1295.2 707.6 L1296.4 730.0 M1305.8 600.7 L1307.0 590.0 L1309.0 580.0 L1311.0 592.0 M1315.4 607.0 L1315.8 648.7" stroke="#0a88e2" stroke-width="3.1" transform="translate(1.5 0)"/>
<path d="M752.1 605.0 L754.8 601.0 L757.5 610.0 L758.2 650.0 L760.1 689.1 L760.5 677.9 L762.7 712.0 L763.7 656.1 L763.8 674.1 L764.8 613.7 L765.0 638.1 L766.5 566.5 L767.9 606.3 L768.3 592.2 L769.6 643.3 L769.8 626.1 L771.6 667.0 L772.8 638.0 L773.0 652.0 L774.2 606.1 L774.5 615.9 L776.1 583.0 L777.6 618.6 L777.8 602.7 L779.6 656.3 L779.9 643.1 L781.8 688.0 L783.6 627.1 L783.9 648.2 L785.0 574.1 L785.4 590.3 L787.0 537.0 L788.6 573.8 L789.0 564.7 L790.7 602.7 L791.1 586.9 L793.1 635.0 L794.8 608.6 L795.2 617.4 L796.4 588.0 L798.2 633.1 L798.6 619.2 L800.0 660.7 L800.4 644.7 L802.1 696.0 L806.6 644.0 L808.4 680.4 L808.7 672.8 L810.3 711.0 L810.6 703.0 L812.7 742.0 L814.0 711.6 L814.2 726.3 L815.3 681.5 L815.6 696.3 L817.4 657.0 L819.4 686.8 L819.7 677.3 L821.1 719.9 L821.3 712.1 L822.9 739.5 L824.0 681.7 L824.3 697.5 L825.1 632.2 L825.3 653.2 L826.9 588.0 L829.5 733.0 M840.0 719.7 L841.3 580.0 L844.1 540.6 L844.8 549.1 L846.6 505.0 L848.8 548.0 L849.2 532.7 L850.2 592.0 L850.5 571.5 L852.5 626.5 L854.0 599.1 L854.4 607.9 L856.1 572.2 L858.1 610.9 L858.4 589.9 L859.8 654.0 L860.1 637.2 L862.7 684.4 L864.4 650.2 L864.8 665.9 L865.9 623.5 L866.1 639.7 L867.8 595.0 L869.4 636.5 L869.7 621.3 L871.6 662.4 L871.9 645.6 L873.5 692.0 L875.2 663.5 L875.5 676.3 L876.8 629.5 L877.1 637.6 L878.4 608.8 L879.7 642.6 L879.9 627.1 L881.0 673.6 L881.2 664.6 L882.6 696.8 L884.0 636.5 L884.3 656.2 L885.8 570.2 L886.1 590.2 L887.5 529.3 L889.4 564.1 L889.6 551.1 L890.8 583.2 L891.2 574.1 L893.1 610.0 L894.4 555.9 L894.6 574.9 L895.6 499.9 L895.8 512.9 L897.3 458.3 L898.9 489.9 L899.2 476.3 L901.1 518.8 L901.5 512.0 L903.4 540.3 L904.5 493.7 L904.7 513.6 L905.8 444.7 L906.0 465.9 L907.5 415.0 L909.7 464.8 L910.1 441.1 L911.6 522.3 L911.8 495.0 L913.5 563.0 L914.3 526.0 L914.5 538.0 L915.3 499.2 L915.5 511.0 L916.6 469.0 L917.6 599.3 L917.8 558.2 L918.5 694.6 L918.6 663.4 L919.7 790.0 L921.0 770.0 L922.8 831.0 L924.4 699.9 L924.8 746.4 L926.2 603.9 L926.6 631.5 L929.0 508.0 L931.1 736.0 L935.2 573.0 L939.1 602.5 L939.8 596.3 L943.5 619.0 L944.9 573.2 L945.1 589.8 L946.2 533.8 L946.5 555.1 L947.6 504.0 L949.7 581.2 L950.2 558.0 L952.5 653.6 L952.9 624.7 L954.9 703.0 L959.0 549.0 L960.4 591.5 L960.6 581.6 L962.1 612.5 L967.3 503.0 L969.1 581.6 L969.5 544.8 L971.3 668.0 L971.7 631.7 L973.5 720.0 L975.0 643.3 L975.2 670.7 L976.7 578.5 L976.9 610.6 L978.4 516.0 L979.4 558.3 L979.7 545.3 L980.4 607.6 L980.6 594.6 L981.8 638.6 L983.3 613.6 L983.7 623.2 L985.0 595.0 L986.4 652.2 L986.8 629.0 L988.0 697.8 L988.4 681.4 L990.1 733.0 L993.7 700.2 L994.8 710.4 L997.3 686.0 L999.4 714.7 L999.7 707.0 L1001.6 731.0 L1003.6 700.2 L1004.0 708.8 L1005.5 686.0 L1008.7 710.8 L1009.2 700.3 L1012.1 730.0 L1014.2 601.3 L1014.7 659.3 L1016.2 477.1 L1016.6 514.8 L1018.5 382.0 L1020.1 501.5 L1020.4 453.0 L1021.8 593.6 L1022.0 556.8 L1024.0 692.0 L1025.7 576.0 L1025.9 612.5 L1026.8 441.3 L1027.0 468.6 L1028.8 354.0 L1030.1 433.4 L1030.3 412.1 L1031.3 495.4 L1031.5 469.0 L1032.5 545.0 L1038.0 440.0 L1039.9 481.6 L1040.1 467.1 L1040.9 529.1 L1041.1 508.2 L1043.0 560.0 L1044.5 462.5 L1044.9 499.0 L1046.1 362.7 L1046.4 410.9 L1047.6 300.0 L1048.9 371.0 L1049.2 352.4 L1050.4 421.4 L1050.6 392.6 L1052.0 470.0 L1055.5 465.0 L1058.5 152.0 L1060.3 234.4 L1060.7 211.5 L1061.3 305.2 L1061.6 269.5 L1063.3 365.0 L1064.6 322.1 L1064.7 335.6 L1066.5 284.3 L1066.8 301.0 L1068.0 250.0 L1069.8 295.1 L1070.0 276.5 L1070.9 350.7 L1071.2 331.5 L1073.2 382.0 L1081.0 232.0 L1083.3 288.7 L1083.6 263.7 L1085.1 350.0 L1085.5 325.1 L1087.0 400.0 L1090.0 340.0 L1091.4 375.0 L1091.7 365.3 L1093.2 404.0 L1095.6 370.1 L1096.2 376.3 L1098.0 345.0 L1099.9 404.1 L1100.2 393.1 L1101.2 443.4 L1101.5 424.0 L1103.6 485.0 L1105.2 450.0 L1105.6 463.5 L1106.7 426.1 L1107.0 435.3 L1108.5 400.0 L1109.9 463.4 L1110.1 439.6 L1111.2 515.9 L1111.5 497.4 L1113.0 560.0 L1114.5 491.5 L1114.8 516.1 L1116.2 436.9 L1116.4 467.0 L1118.0 380.0 L1119.5 530.0 L1119.7 476.3 L1120.5 656.6 L1120.7 624.4 L1122.3 746.5 L1124.3 630.8 L1124.5 691.1 L1126.0 504.8 L1126.3 552.8 L1128.0 420.0 L1131.5 488.4 L1132.2 465.7 L1134.6 544.5 L1135.4 528.5 L1137.9 606.8 L1138.9 530.4 L1139.1 563.2 L1140.0 481.4 L1140.1 497.6 L1141.0 430.0 L1143.3 532.8 L1143.6 496.3 L1144.9 608.0 L1145.3 582.9 L1147.2 687.2 L1148.4 577.4 L1148.7 606.3 L1150.1 475.8 L1150.3 514.2 L1152.0 400.0 L1153.8 456.7 L1154.2 432.0 L1155.4 519.6 L1155.8 492.0 L1158.0 560.0 L1159.3 491.2 L1159.5 516.4 L1160.2 440.8 L1160.5 470.5 L1162.0 390.0 L1164.0 489.4 L1164.4 455.2 L1165.5 558.8 L1165.7 519.8 L1167.5 626.5 L1168.7 552.7 L1168.9 585.0 L1170.3 484.7 L1170.6 513.3 L1172.0 420.0 L1173.5 480.6 L1173.8 466.3 L1175.1 525.1 L1175.5 508.3 L1177.0 560.0 L1180.0 440.0 L1182.4 639.4 L1183.9 607.6 L1184.3 620.4 L1185.8 577.2 L1186.1 588.9 L1188.0 553.8 L1189.6 746.6 L1191.6 559.3 L1194.3 730.4 L1196.0 539.1 L1197.7 779.3 L1200.1 512.2 L1202.0 748.6 L1204.5 563.6 L1207.0 674.9 L1208.6 608.0 L1211.3 709.1 L1213.2 626.8 L1215.3 707.5 L1217.1 626.6 L1219.6 691.9 L1222.4 627.5 L1223.6 663.8 L1223.8 645.2 L1224.4 701.1 L1224.6 687.8 L1225.6 730.2 L1228.1 636.0 L1230.6 714.3 L1233.2 643.6 L1234.8 732.2 L1236.9 629.3 L1238.9 734.2 L1240.9 635.8 L1243.1 720.5 L1245.0 610.4 L1246.0 638.8 L1246.3 630.1 L1246.9 667.0 L1247.1 660.1 L1248.1 692.8 L1250.7 593.6 L1253.5 694.3 L1255.7 570.4 L1258.3 676.9 L1261.0 563.6 L1263.8 687.3 L1265.5 560.0 L1267.5 675.0 L1268.4 638.7 L1268.6 647.9 L1269.4 600.7 L1269.6 619.0 L1270.6 575.4 L1272.7 658.5 L1275.0 533.9 L1277.3 625.8 L1279.3 483.2 L1281.3 580.2 L1284.4 478.1 L1286.3 586.6 L1288.7 465.7 L1290.4 679.2 L1293.0 481.0 L1295.3 538.7 L1297.5 476.7 L1299.9 522.0 L1304.2 528.8 L1305.2 473.1 L1305.4 491.6 L1306.2 428.7 L1306.4 446.7 L1307.4 392.8 L1309.0 623.0 L1310.2 576.2 L1310.5 587.6 L1311.3 529.6 L1311.5 548.5 L1313.0 500.0 L1317.0 482.4 L1318.6 618.3 M1336.8 709.5 L1339.4 393.0 L1342.0 520.0 L1344.0 500.0 L1345.5 482.0 L1346.0 557.0 M1386.2 621.9 L1390.5 619.8 L1393.3 624.7 M1410.2 670.6 L1413.0 630.3 L1413.7 673.4 L1415.9 644.4 L1416.6 677.6 L1421.5 660.0 L1422.2 687.5 L1423.6 690.3 L1423.6 707.2 L1427.0 715.0 L1429.3 712.9 L1427.5 725.0 L1426.4 732.0" stroke="#00c81e" stroke-width="3.1" opacity="0.25"/>
</g>
<rect x="203.4" y="107.6" width="584.4" height="191.0" fill="#fff" stroke="#000" stroke-width="1.5"/>
<path d="M239 155.6 H312.4" stroke="#000" stroke-width="1.6"/>
<path d="M239 202.2 H312.4" stroke="#00c81e" stroke-width="1.6"/>
<path d="M239 250.6 H312.4" stroke="#0a88e2" stroke-width="1.6"/>
<text x="344.9" y="172.4" font-size="40.5" textLength="196.0" lengthAdjust="spacingAndGlyphs">Lake Level</text>
<text x="344.9" y="218.6" font-size="40.5" textLength="424.2" lengthAdjust="spacingAndGlyphs">Discharge at Mangochi</text>
<text x="344.9" y="266.5" font-size="40.5" textLength="397.3" lengthAdjust="spacingAndGlyphs">Discharge at Liwonde</text>
<rect x="203.4" y="107.6" width="1298.6" height="751.8" fill="none" stroke="#000" stroke-width="1.5"/>
<path d="M261.9 859.4 V884.4 M462.8 859.4 V884.4 M663.7 859.4 V884.4 M864.7 859.4 V884.4 M1065.6 859.4 V884.4 M1266.5 859.4 V884.4 M1467.4 859.4 V884.4 M180 831.9 H203.4 M180 657.7 H203.4 M180 483.5 H203.4 M180 309.2 H203.4 M180 135.0 H203.4 M1502.0 740.6 H1525 M1502.0 581.7 H1525 M1502.0 422.9 H1525 M1502.0 264.0 H1525" stroke="#000" stroke-width="1.5" fill="none"/>
<text x="261.2" y="947.2" font-size="40.5" text-anchor="middle">1900</text>
<text x="462.1" y="947.2" font-size="40.5" text-anchor="middle">1920</text>
<text x="663.0" y="947.2" font-size="40.5" text-anchor="middle">1940</text>
<text x="864.0" y="947.2" font-size="40.5" text-anchor="middle">1960</text>
<text x="1064.9" y="947.2" font-size="40.5" text-anchor="middle">1980</text>
<text x="1265.8" y="947.2" font-size="40.5" text-anchor="middle">2000</text>
<text x="1466.7" y="947.2" font-size="40.5" text-anchor="middle">2020</text>
<text transform="translate(147.5 831.9) rotate(-90)" font-size="40.5" text-anchor="middle">470</text>
<text transform="translate(147.5 657.7) rotate(-90)" font-size="40.5" text-anchor="middle">472</text>
<text transform="translate(147.5 483.5) rotate(-90)" font-size="40.5" text-anchor="middle">474</text>
<text transform="translate(147.5 309.2) rotate(-90)" font-size="40.5" text-anchor="middle">476</text>
<text transform="translate(147.5 135.0) rotate(-90)" font-size="40.5" text-anchor="middle">478</text>
<text transform="translate(1586.6 740.6) rotate(-90)" font-size="40.5" text-anchor="middle">200</text>
<text transform="translate(1586.6 581.7) rotate(-90)" font-size="40.5" text-anchor="middle">400</text>
<text transform="translate(1586.6 422.9) rotate(-90)" font-size="40.5" text-anchor="middle">600</text>
<text transform="translate(1586.6 264.0) rotate(-90)" font-size="40.5" text-anchor="middle">800</text>
<text x="855.1" y="51.4" font-size="36.4" font-weight="bold" text-anchor="middle">Lake Level and Shire River Discharge</text>
<text x="851" y="1041.4" font-size="42.5" text-anchor="middle">Year</text>
<text transform="translate(52.9 483.7) rotate(-90)" font-size="40.5" text-anchor="middle" textLength="366.2" lengthAdjust="spacingAndGlyphs">Lake Level [m a.s.l.]</text>
<text transform="translate(1672.5 483.7) rotate(-90)" font-size="41.6" text-anchor="middle">Discharge [m<tspan font-size="29" dy="-20">3</tspan><tspan dy="20">/s]</tspan></text>
</svg></body></html>
